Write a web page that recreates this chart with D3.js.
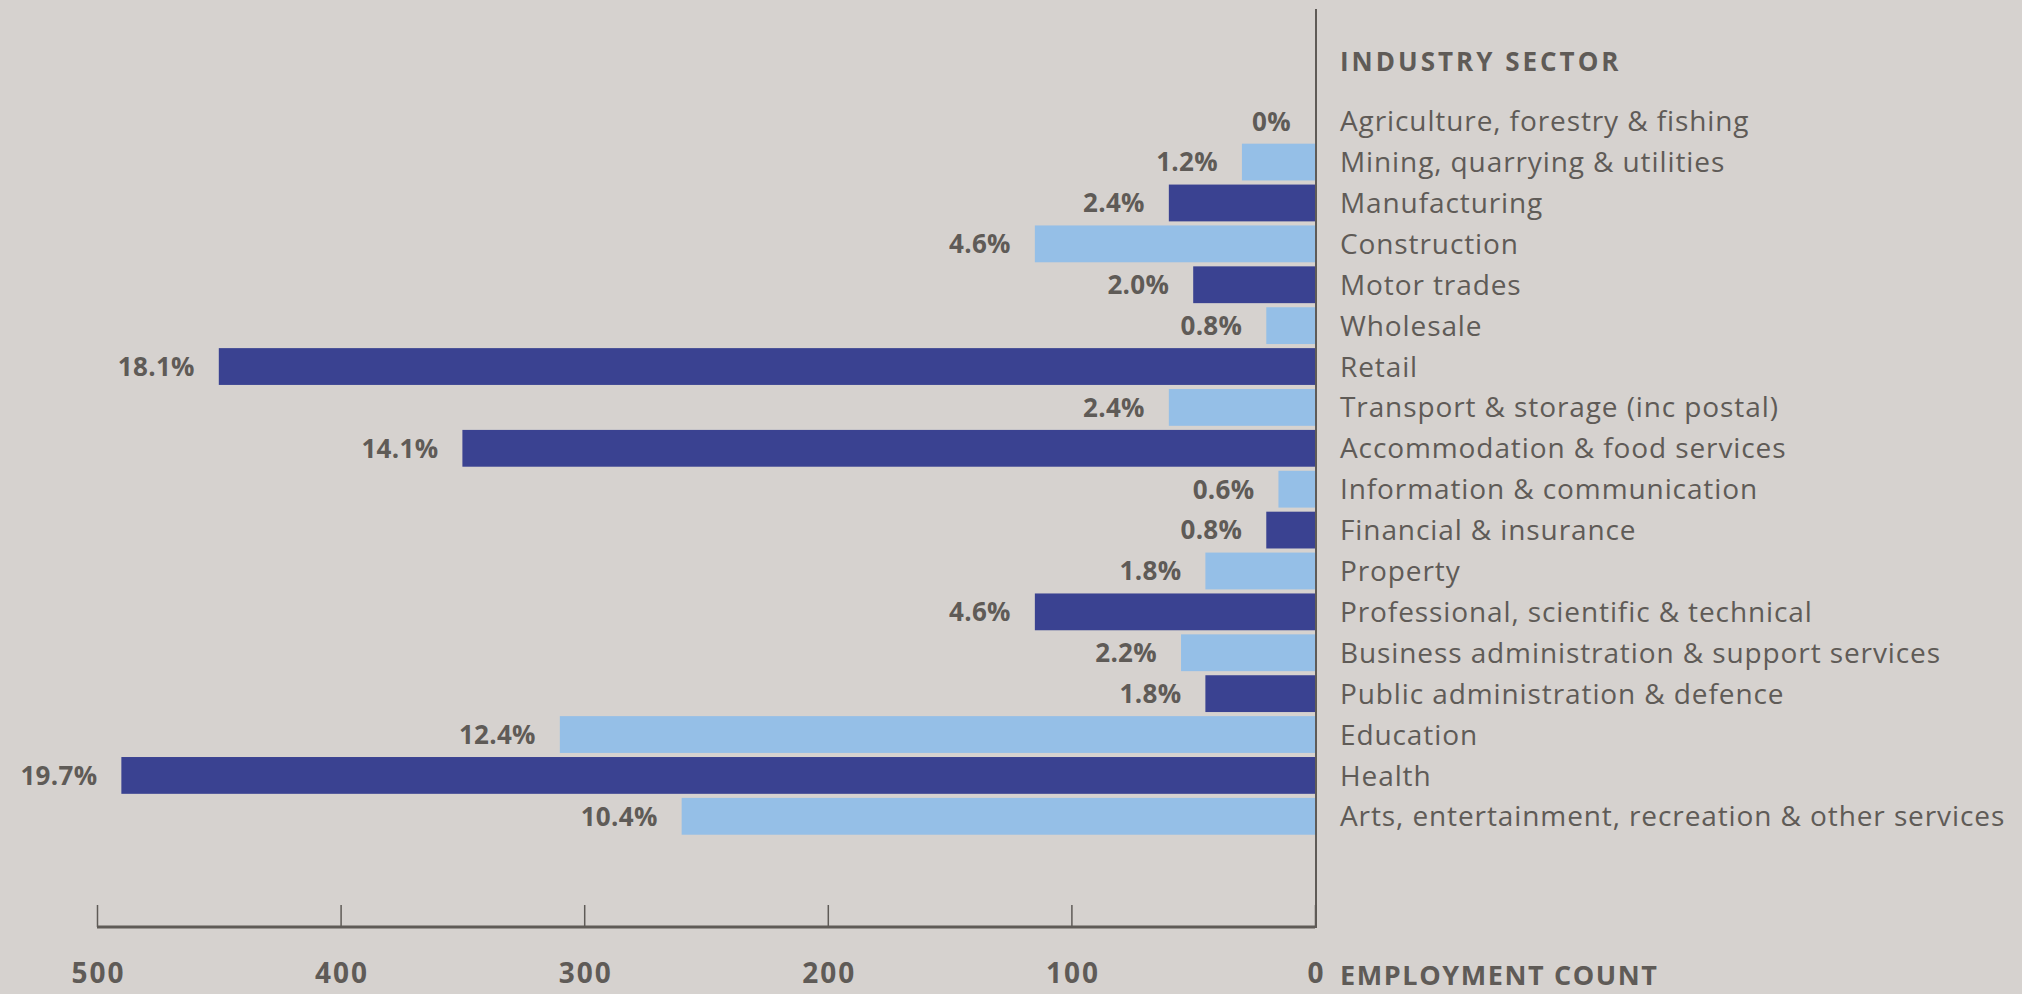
<!DOCTYPE html>
<html>
<head>
<meta charset="utf-8">
<script src="https://cdn.jsdelivr.net/npm/d3@7"></script>
<style>
  html, body { margin: 0; padding: 0; background: #d6d2cf; }
  svg { display: block; }
  text { font-family: "Open Sans", "Noto Sans", sans-serif; fill: #5f5b57; }
</style>
</head>
<body>
<svg id="chart" width="2022" height="994"></svg>
<script>
// ---- data ----
const categories = [
  "Agriculture, forestry & fishing",
  "Mining, quarrying & utilities",
  "Manufacturing",
  "Construction",
  "Motor trades",
  "Wholesale",
  "Retail",
  "Transport & storage (inc postal)",
  "Accommodation & food services",
  "Information & communication",
  "Financial & insurance",
  "Property",
  "Professional, scientific & technical",
  "Business administration & support services",
  "Public administration & defence",
  "Education",
  "Health",
  "Arts, entertainment, recreation & other services"
];
const counts = [0, 30, 60, 115, 50, 20, 450, 60, 350, 15, 20, 45, 115, 55, 45, 310, 490, 260];
const percentLabels = ["0%", "1.2%", "2.4%", "4.6%", "2.0%", "0.8%", "18.1%", "2.4%", "14.1%", "0.6%", "0.8%", "1.8%", "4.6%", "2.2%", "1.8%", "12.4%", "19.7%", "10.4%"];
const tickValues = [500, 400, 300, 200, 100, 0];
const categoryTitle = "INDUSTRY SECTOR";
const axisTitle = "EMPLOYMENT COUNT";

const rows = categories.map((c, i) => ({ name: c, value: counts[i], label: percentLabels[i], i }));

// ---- layout ----
const svg = d3.select("#chart");
const textColor = "#5f5b57";
const darkBar = "#3a4291";
const lightBar = "#95bfe7";

const x = d3.scaleLinear().domain([0, 500]).range([1315, 97]);
const y = d3.scaleBand().domain(categories).range([98.7, 838.8]).paddingInner(0.1).paddingOuter(0.1);

// bars
svg.append("g").selectAll("rect").data(rows).join("rect")
  .attr("x", d => x(d.value))
  .attr("y", d => y(d.name))
  .attr("width", d => x(0) - x(d.value))
  .attr("height", y.bandwidth())
  .attr("fill", d => d.i % 2 === 0 ? darkBar : lightBar);

// percentage labels
svg.append("g").selectAll("text").data(rows).join("text")
  .attr("x", d => x(d.value) - 24)
  .attr("y", d => y(d.name) + y.bandwidth() / 2)
  .attr("dy", "0.36em")
  .attr("text-anchor", "end")
  .style("font-weight", 700)
  .style("font-size", "26px")
  .style("letter-spacing", "0.3px")
  .text(d => d.label);

// category labels
svg.append("g").selectAll("text").data(rows).join("text")
  .attr("x", 1340)
  .attr("y", d => y(d.name) + y.bandwidth() / 2)
  .attr("dy", "0.36em")
  .style("font-size", "28px")
  .style("letter-spacing", "0.9px")
  .text(d => d.name);

// title
svg.append("text")
  .attr("x", 1340)
  .attr("y", 71)
  .style("font-weight", 700)
  .style("font-size", "26px")
  .style("letter-spacing", "3px")
  .text(categoryTitle);

// vertical axis line
svg.append("line")
  .attr("x1", 1316).attr("x2", 1316)
  .attr("y1", 9).attr("y2", 928)
  .attr("stroke", textColor).attr("stroke-width", 2);

// bottom axis
const axisG = svg.append("g").attr("transform", "translate(0,927)")
  .call(d3.axisBottom(x).tickValues(tickValues).tickSize(-22).tickPadding(36).tickFormat(d3.format("d")));
axisG.select(".domain").attr("stroke", textColor).attr("stroke-width", 3).attr("d", `M${x(500)},0H${x(0)}`);
axisG.selectAll(".tick line").attr("stroke", textColor).attr("stroke-width", 1.5);
axisG.selectAll(".tick text")
  .attr("fill", textColor)
  .attr("dx", "1px")
  .style("font-family", '"Open Sans", "Noto Sans", sans-serif')
  .style("font-weight", 700)
  .style("font-size", "28px")
  .style("letter-spacing", "2px");

svg.append("text")
  .attr("x", 1340)
  .attr("y", 985)
  .style("font-weight", 700)
  .style("font-size", "27px")
  .style("letter-spacing", "1.6px")
  .text(axisTitle);
</script>
</body>
</html>
